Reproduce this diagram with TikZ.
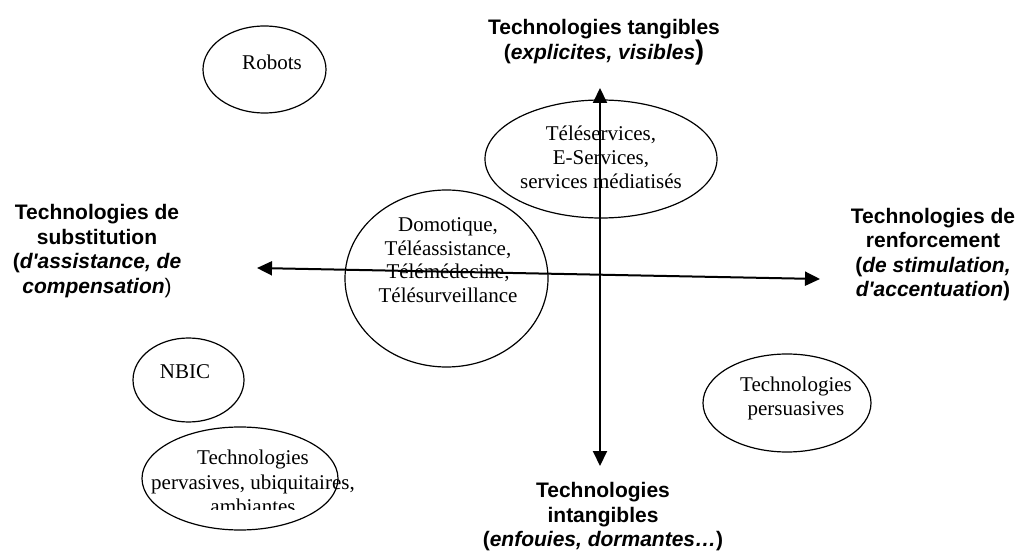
\documentclass[tikz,border=0pt]{standalone}
\usepackage{fontspec}
\setmainfont{Liberation Serif}
\setsansfont{Liberation Sans}
\usepackage{tikz}
\usetikzlibrary{shapes.geometric,arrows.meta}

\begin{document}
\begin{tikzpicture}[x=1pt,y=-1pt,
oval/.style={ellipse,draw,line width=1.2pt,inner sep=0pt},
ovaltext/.style={align=center,inner sep=0pt,font=\fontsize{21}{24}\selectfont},
axislab/.style={align=center,inner sep=0pt,font=\sffamily\bfseries\fontsize{21}{24.5}\selectfont},
axis/.style={line width=2pt,{Triangle[length=15pt,width=14pt]}-{Triangle[length=15pt,width=14pt]}}]

\useasboundingbox (0,0) rectangle (1018,553);

% ovals
\node[oval,minimum width=123pt,minimum height=87pt] (robots) at (264.5,69.5) {};
\node[ovaltext] (robotsT) at (272,62) {Robots};

\node[oval,minimum width=232pt,minimum height=118pt] (teleserv) at (601,159) {};
\node[ovaltext] (teleservT) at (601,157) {Téléservices,\\E-Services,\\services médiatisés};

\node[oval,minimum width=203pt,minimum height=177pt] (domo) at (446.5,278.5) {};
\node[ovaltext,font=\fontsize{21}{23.5}\selectfont] (domoT) at (448,260) {Domotique,\\Téléassistance,\\Télémédecine,\\Télésurveillance};

\node[oval,minimum width=111pt,minimum height=84pt] (nbic) at (188.5,380) {};
\node[ovaltext] (nbicT) at (185,372) {NBIC};

\node[oval,minimum width=196pt,minimum height=103pt] (perv) at (240,478.5) {};
\begin{scope}
\clip (100,420) rectangle (420,509);
\node[ovaltext,font=\fontsize{21}{24.5}\selectfont] (pervT) at (253,482) {Technologies\\pervasives, ubiquitaires,\\ambiantes};
\end{scope}

\node[oval,minimum width=168pt,minimum height=98pt] (persu) at (787,403) {};
\node[ovaltext] (persuT) at (796,398) {Technologies\\persuasives};

% axes
\coordinate (west) at (257,268);
\coordinate (east) at (820,279);
\coordinate (north) at (600,88);
\coordinate (south) at (600,466);
\draw[axis] (west) -- (east);
\draw[axis] (south) -- (north);

\node[axislab] (tangible) at (604,42) {Technologies tangibles\\(\textit{explicites, visibles}{\fontsize{27}{31}\selectfont)}};
\node[axislab] (intangible) at (603,517) {Technologies\\intangibles\\(\textit{enfouies, dormantes…})};
\node[axislab] (substit) at (97,251) {Technologies de\\substitution\\(\textit{d\textquotesingle{}assistance, de}\\\textit{compensation}{\mdseries)}};
\node[axislab] (renfort) at (933,254.5) {Technologies de\\renforcement\\(\textit{de stimulation,}\\\textit{d\textquotesingle{}accentuation})};

\end{tikzpicture}
\end{document}
